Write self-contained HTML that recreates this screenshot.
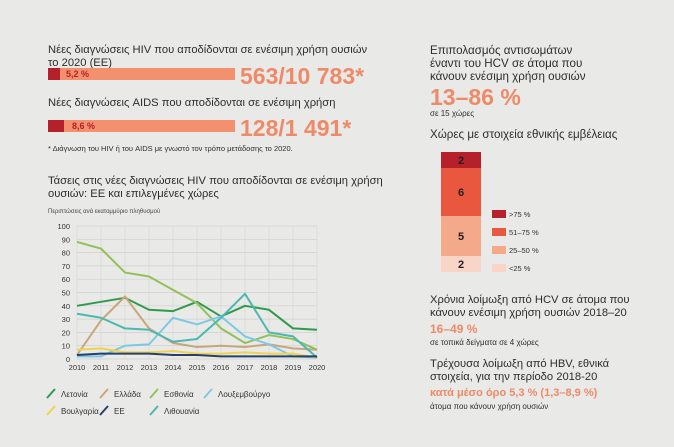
<!DOCTYPE html>
<html><head><meta charset="utf-8"><style>
body{margin:0;width:674px;height:447px;background:#e9e9e7;font-family:"Liberation Sans","Noto Sans CJK SC",sans-serif;color:#2d2d2d;position:relative;overflow:hidden}
.a{position:absolute;white-space:nowrap}
.h{font-size:11.2px;line-height:13px}
.hr{font-size:11.6px;line-height:13px}
.big{color:#ef8a68;font-weight:bold}
.s{font-size:8px}
</style></head><body>
<div class="a h" style="left:48px;top:44px">Νέες διαγνώσεις HIV που αποδίδονται σε ενέσιμη χρήση ουσιών<br>το 2020 (ΕΕ)</div>
<div class="a" style="left:48px;top:68px;width:187px;height:12px;background:#f3906d"><div style="width:12px;height:12px;background:#b5202a"></div><span class="a" style="left:18px;top:1px;font-size:9px;color:#b5202a;font-weight:bold">5,2 %</span></div>
<div class="a big" style="left:240px;top:63px;font-size:23px">563/10 783*</div>
<div class="a h" style="left:48px;top:97px">Νέες διαγνώσεις AIDS που αποδίδονται σε ενέσιμη χρήση</div>
<div class="a" style="left:48px;top:120px;width:187px;height:12px;background:#f3906d"><div style="width:16px;height:12px;background:#b5202a"></div><span class="a" style="left:24px;top:1px;font-size:9px;color:#b5202a;font-weight:bold">8,6 %</span></div>
<div class="a big" style="left:240px;top:115px;font-size:23px">128/1 491*</div>
<div class="a s" style="left:48px;top:144px;font-size:7.5px">* Διάγνωση του HIV ή του AIDS με γνωστό τον τρόπο μετάδοσης το 2020.</div>
<div class="a h" style="left:48px;top:175px">Τάσεις στις νέες διαγνώσεις HIV που αποδίδονται σε ενέσιμη χρήση<br>ουσιών: ΕΕ και επιλεγμένες χώρες</div>
<div class="a" style="left:48px;top:209px;font-size:6px;color:#444">Περιπτώσεις ανά εκατομμύριο πληθυσμού</div>
<svg class="a" style="left:0;top:0" width="674" height="447" id="chart"></svg>

<div class="a hr" style="left:430px;top:44px">Επιπολασμός αντισωμάτων<br>έναντι του HCV σε άτομα που<br>κάνουν ενέσιμη χρήση ουσιών</div>
<div class="a big" style="left:430px;top:84px;font-size:23px">13–86 %</div>
<div class="a s" style="left:430px;top:109px">σε 15 χώρες</div>
<div class="a hr" style="left:430px;top:128px">Χώρες με στοιχεία εθνικής εμβέλειας</div>
<svg class="a" style="left:0;top:0" width="674" height="447" id="stack"></svg>

<div class="a h" style="left:430px;top:294px">Χρόνια λοίμωξη από HCV σε άτομα που<br>κάνουν ενέσιμη χρήση ουσιών 2018–20</div>
<div class="a big" style="left:430px;top:322px;font-size:12px">16–49 %</div>
<div class="a s" style="left:430px;top:338px">σε τοπικά δείγματα σε 4 χώρες</div>
<div class="a h" style="left:430px;top:358px">Τρέχουσα λοίμωξη από HBV, εθνικά<br>στοιχεία, για την περίοδο 2018-20</div>
<div class="a big" style="left:430px;top:387px;font-size:11px">κατά μέσο όρο 5,3 % (1,3–8,9 %)</div>
<div class="a s" style="left:430px;top:402px">άτομα που κάνουν χρήση ουσιών</div>
<script>
const years=[2010,2011,2012,2013,2014,2015,2016,2017,2018,2019,2020];
const yTicks=[0,10,20,30,40,50,60,70,80,90,100];
const names=["Λετονία","Ελλάδα","Εσθονία","Λουξεμβούργο","Βουλγαρία","ΕΕ","Λιθουανία"];
const colors=["#2e9a4e","#c9a57a","#93c05a","#7ec8e6","#f0d24e","#23406e","#4db8b0"];
const latvia=[40,43,46,37,36,43,32,40,37,23,22];
const greece=[3,29,47,23,12,9,10,9,11,8,7];
const estonia=[88,83,65,62,52,42,23,12,18,15,7];
const luxembourg=[2,2,10,11,31,26,32,17,11,2,1];
const bulgaria=[7,8,5,5,6,4,4,5,4,4,1];
const eu=[3,4,4,4,3,3,2,2,2,2,2];
const lithuania=[34,31,23,22,13,15,31,49,20,17,1];
const series=[latvia,greece,estonia,luxembourg,bulgaria,eu,lithuania];
const drawOrder=[0,1,2,3,4,6,5];
const NS="http://www.w3.org/2000/svg";
const svg=document.getElementById('chart');
const X=i=>77+i*(317-77)/(years.length-1);
const Y=v=>359-v*(359-226)/100;
function el(t,a,p){const e=document.createElementNS(NS,t);for(const k in a)e.setAttribute(k,a[k]);(p||svg).appendChild(e);return e;}
yTicks.forEach(t=>{const g=el('line',{x1:X(0),x2:X(10),y1:Y(t),y2:Y(t),stroke:'#cfcfcd','stroke-width':0.7});


const l=el('text',{x:70,y:Y(t)+3,'text-anchor':'end','font-size':7.5,fill:'#333'});l.textContent=t;

});
years.forEach((yr,i)=>{const g=el('line',{x1:X(i),x2:X(i),y1:Y(0),y2:Y(100),stroke:'#d6d6d4','stroke-width':0.6});


const l=el('text',{x:X(i),y:370,'text-anchor':'middle','font-size':7.5,fill:'#333'});l.textContent=yr;

});
drawOrder.forEach(s=>{const p=el('polyline',{points:series[s].map((v,i)=>X(i)+','+Y(v)).join(' '),fill:'none',stroke:colors[s],'stroke-width':2,'stroke-linejoin':'round'});

});
const lx=[47,100,150,204,47,100,150],ly=[394,394,394,394,411,411,411];
names.forEach((n,s)=>{const g=el('line',{x1:lx[s],y1:ly[s]+4,x2:lx[s]+8,y2:ly[s]-5,stroke:colors[s],'stroke-width':2});


const t=el('text',{x:lx[s]+14,y:ly[s]+3,'font-size':8,fill:'#333'});t.textContent=n;

});

const stackCounts=[2,5,6,2];
const stackLabels=["<25 %","25–50 %","51–75 %",">75 %"];
const stackColors=["#f8d5c6","#f4a98b","#e9573f","#b5202a"];
const st=document.getElementById('stack');
const unit=120/15;let yb=272;
stackCounts.forEach((c,i)=>{const h=c*unit;yb-=h;
const r=el('rect',{x:441,y:yb,width:40,height:h,fill:stackColors[i]},st);


const t=el('text',{x:461,y:yb+h/2+4,'text-anchor':'middle','font-size':11,'font-weight':'bold',fill:'#222'},st);t.textContent=c;


const ly2=269-i*18;
const sq=el('rect',{x:492,y:ly2-5,width:14,height:8,fill:stackColors[i]},st);


const lt=el('text',{x:509,y:ly2+2,'font-size':7.5,fill:'#333'},st);lt.textContent=stackLabels[i];

});
</script>
</body></html>
